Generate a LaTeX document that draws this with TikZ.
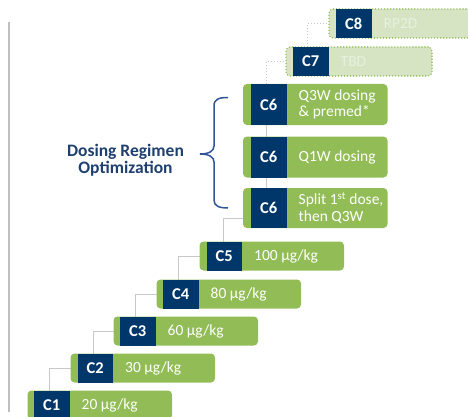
\documentclass[tikz,border=0pt]{standalone}
\usepackage{fontspec}
\setmainfont{Carlito}
\usetikzlibrary{calc,backgrounds}
\definecolor{bargreen}{RGB}{146,189,86}
\definecolor{darkblue}{RGB}{0,55,107}
\definecolor{lightgreen}{RGB}{214,228,196}
\definecolor{palelbl}{RGB}{232,240,222}
\definecolor{bracecol}{RGB}{47,85,151}
\definecolor{titlecol}{RGB}{31,64,110}
\definecolor{leftgray}{RGB}{191,191,191}
\definecolor{conngray}{RGB}{200,200,200}
\begin{document}
\begin{tikzpicture}[x=1pt,y=-1pt,
  bar/.style={fill=bargreen, rounded corners=4pt, draw=none, inner sep=0pt, outer sep=0pt,
    minimum width=144.5pt, minimum height=29pt, anchor=north west},
  pbar/.style={bar, fill=lightgreen, draw=bargreen, line width=1.6pt,
    dash pattern=on 0.01pt off 3pt, line cap=round},
  blk/.style={fill=darkblue, text=white, font=\fontsize{16.5}{16.5}\selectfont\bfseries,
    inner sep=0pt, outer sep=0pt, minimum width=35.5pt, anchor=north west},
  lbl/.style={text=white, font=\fontsize{15.5}{16.5}\selectfont, anchor=west, inner sep=0pt, align=left},
  plbl/.style={lbl, text=palelbl},
  conn/.style={draw=conngray, line width=1pt},
  brace/.style={draw=bracecol, line width=1.5pt},
  title/.style={text=titlecol, font=\fontsize{17.5}{17}\selectfont\bfseries, align=center, inner sep=0pt},
]
\useasboundingbox (0,0) rectangle (468,417);
\clip (0,0) rectangle (468,417);

% left rule
\coordinate (lt) at (9,22);
\coordinate (lb) at (9,412);
\draw[leftgray, line width=1.5pt] (lt) -- (lb);

% bars C1..C5
\node[bar] (b1) at (27.5,390.5) {};
\node[blk, minimum height=29pt] (c1) at ($(b1.north west)+(6.5,0)$) {C1};
\node[lbl] (t1) at ($(c1.east)+(12,0)$) {20 µg/kg};

\node[bar] (b2) at (70.5,353.5) {};
\node[blk, minimum height=29pt] (c2) at ($(b2.north west)+(7,0)$) {C2};
\node[lbl] (t2) at ($(c2.east)+(12,0)$) {30 µg/kg};

\node[bar] (b3) at (113.5,316.5) {};
\node[blk, minimum height=29pt] (c3) at ($(b3.north west)+(6.5,0)$) {C3};
\node[lbl] (t3) at ($(c3.east)+(12,0)$) {60 µg/kg};

\node[bar] (b4) at (156.5,279.5) {};
\node[blk, minimum height=29pt] (c4) at ($(b4.north west)+(6.5,0)$) {C4};
\node[lbl] (t4) at ($(c4.east)+(12,0)$) {80 µg/kg};

\node[bar] (b5) at (199.5,241.5) {};
\node[blk, minimum height=29pt] (c5) at ($(b5.north west)+(7,0)$) {C5};
\node[lbl] (t5) at ($(c5.east)+(12,0)$) {100 µg/kg};

% C6 group
\node[bar, minimum height=41pt] (b6a) at (243,84) {};
\node[blk, minimum height=41pt] (c6a) at ($(b6a.north west)+(8,0)$) {C6};
\node[lbl] (t6a) at ($(c6a.east)+(12,0)$) {Q3W dosing\\\& premed*};

\node[bar, minimum height=41pt] (b6b) at (243,136.5) {};
\node[blk, minimum height=41pt] (c6b) at ($(b6b.north west)+(8,0)$) {C6};
\node[lbl] (t6b) at ($(c6b.east)+(12,0)$) {Q1W dosing};

\node[bar, minimum height=40pt] (b6c) at (243,188) {};
\node[blk, minimum height=40pt] (c6c) at ($(b6c.north west)+(8,0)$) {C6};
\node[lbl] (t6c) at ($(c6c.east)+(12,0)$) {Split 1\textsuperscript{st} dose,\\then Q3W};

% planned cohorts
\node[pbar, minimum width=146pt] (b7) at (286,47) {};
\node[blk, minimum height=29pt] (c7) at ($(b7.north west)+(7,0)$) {C7};
\node[plbl] (t7) at ($(c7.east)+(12,0)$) {TBD};

\node[pbar, minimum width=150pt] (b8) at (329,9) {};
\node[blk, minimum height=29pt] (c8) at ($(b8.north west)+(7,0)$) {C8};
\node[plbl] (t8) at ($(c8.east)+(12,0)$) {RP2D};

% connectors
\begin{scope}[on background layer]
\draw[conn] ($(c1.north)+(-2,0)$) |- (b2.west);
\draw[conn] ($(c2.north)+(-2,0)$) |- (b3.west);
\draw[conn] ($(c3.north)+(-2,0)$) |- (b4.west);
\draw[conn] ($(c4.north)+(-2,0)$) |- (b5.west);
\draw[conn] ($(c5.north)+(-1,0)$) |- ($(b6c.west)+(0,10)$);
\draw[conn] ($(c6c.center)+(-2.5,0)$) -- ($(c6a.center)+(-2.5,0)$);
\draw[conn, dotted] ($(c6a.north)+(-2.5,0)$) |- (b7.west);
\draw[conn, dotted] ($(c7.north)+(-3,0)$) |- (b8.west);
\end{scope}

% brace and title
\coordinate (br1) at (228,97.5);
\coordinate (brt) at (200,154);
\coordinate (br2) at (228,208);
\draw[brace] (br1) .. controls (219,97.5) and (214,99) .. (214,106) -- (214,146)
  .. controls (214,151) and (209,154) .. (brt)
  .. controls (209,154) and (214,157) .. (214,162) -- (214,200)
  .. controls (214,206) and (219,208) .. (br2);
\node[title] (dro) at (125.5,160) {Dosing Regimen\\Optimization};
\end{tikzpicture}
\end{document}
